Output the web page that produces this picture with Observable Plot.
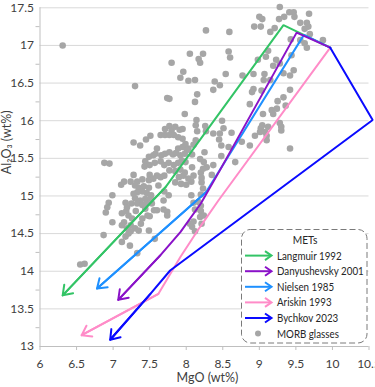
<!DOCTYPE html>
<html>
<head>
<meta charset="utf-8">
<script src="https://cdn.jsdelivr.net/npm/d3@7"></script>
<script src="https://cdn.jsdelivr.net/npm/@observablehq/plot@0.6"></script>
<style>
  html, body { margin: 0; padding: 0; background: #fff; }
  #wrap { position: relative; width: 375px; height: 387px; overflow: hidden; }
  #legend { position: absolute; left: 241px; top: 229px; }
</style>
</head>
<body>
<div id="wrap"></div>
<script>
// ---- Data (MgO wt%, Al2O3 wt%) ----
const seriesNames = ["Langmuir 1992", "Danyushevsky 2001", "Nielsen 1985", "Ariskin 1993", "Bychkov 2023"];
const seriesColors = ["#33c466", "#8a12c8", "#1e90ff", "#ff8cc8", "#0a0aff"];

const langmuir = [[9.97,16.97],[9.33,17.27],[7.72,15.12],[6.31,13.68]];
const danyushevsky = [[9.97,16.97],[9.51,17.17],[8.46,15.34],[8.20,14.90],[7.92,14.52],[7.645,14.21],[7.07,13.62]];
const nielsen = [[9.97,16.97],[9.61,17.14],[8.27,15.05],[6.78,13.77]];
const ariskin = [[9.97,16.97],[8.44,14.94],[8.19,14.59],[7.92,14.19],[7.62,13.70],[6.57,13.15]];
const bychkov = [[9.97,16.97],[10.55,16.01],[7.78,14.01],[7.51,13.70],[6.96,13.09]];

const morb = [
[9.28,17.51],[9.41,17.44],[9.47,17.44],[9.68,17.42],[9.00,17.38],[9.04,17.35],[9.27,17.35],[9.34,17.38],[9.48,17.38],[9.56,17.30],[9.65,17.30],[9.67,17.25],[9.62,17.22],[8.93,17.25],[9.02,17.25],[9.15,17.18],[9.21,17.23],[8.27,17.20],[8.59,17.18],[9.43,17.08],[9.56,17.07],[9.69,17.15],[9.62,17.03],[9.65,16.97],[9.87,17.07],
[8.05,16.89],[8.17,16.82],[8.23,16.89],[8.19,16.77],[8.58,16.92],[8.60,16.84],[9.12,16.93],[9.09,16.85],[8.98,16.81],[9.19,16.73],[9.23,16.81],[9.28,16.76],[9.44,16.87],[7.80,16.77],[7.96,16.65],[7.92,16.57],[8.54,16.62],[8.77,16.60],[8.92,16.62],[9.07,16.62],[9.15,16.54],[9.06,16.54],[9.33,16.63],[9.47,16.67],[9.42,16.60],[8.03,16.53],[8.12,16.54],[8.39,16.52],[8.37,16.41],[8.46,16.47],[8.92,16.42],[8.90,16.38],[9.03,16.40],[9.42,16.41],
[6.31,17.00],[7.30,16.46],[7.74,16.30],[7.77,16.29],[8.15,16.35],[8.12,16.25],[8.87,16.22],[9.25,16.26],[9.33,16.31],[9.17,16.14],[9.19,16.09],[9.24,16.16],[9.36,16.20],[9.05,16.09],[7.98,16.09],[8.49,16.00],[8.14,16.01],[8.13,15.94],[8.26,15.93],
[9.04,15.94],[9.02,15.90],[9.12,15.92],[9.08,15.85],[9.10,15.80],[9.01,15.85],[8.94,15.80],[8.87,15.67],[9.28,15.97],[9.30,15.92],[9.30,15.87],[8.62,15.84],[8.46,15.83],[8.37,15.83],[8.58,15.65],[8.76,15.72],[9.10,15.74],[9.42,15.63],[8.67,15.45],
[7.71,15.89],[7.77,15.93],[7.80,15.87],[7.85,15.92],[7.91,15.88],[7.95,15.89],[7.65,15.81],[7.71,15.81],[7.77,15.81],[7.83,15.81],[7.89,15.78],[7.95,15.76],[7.51,15.80],[7.45,15.75],[7.37,15.67],[7.28,15.71],
[8.15,15.86],[8.27,15.86],[8.45,15.75],[8.51,15.90],[8.48,15.67],[8.13,15.74],[8.10,15.68],[8.03,15.63],[8.25,15.58],[8.08,15.55],[8.19,15.49],[8.24,15.45],[8.28,15.38],[8.37,15.41],[8.48,15.53],[7.99,15.45],
[7.60,15.63],[7.58,15.56],[7.49,15.52],[7.55,15.54],[7.66,15.54],[7.71,15.56],[7.77,15.58],[7.82,15.55],[7.89,15.63],[7.95,15.65],[7.99,15.69],[8.01,15.61],[7.86,15.57],[7.92,15.54],[7.98,15.56],
[7.44,15.46],[7.50,15.41],[7.57,15.44],[7.65,15.46],[7.70,15.41],[7.76,15.44],[7.83,15.41],[7.89,15.44],[7.94,15.47],[7.77,15.34],[7.85,15.33],[7.92,15.35],[7.98,15.31],[8.08,15.38],[7.43,15.39],[7.60,15.27],[7.65,15.25],[7.70,15.27],[7.50,15.28],[7.28,15.28],[7.15,15.19],[7.11,15.15],[7.24,15.19],[7.33,15.19],[7.40,15.22],[7.49,15.21],[7.55,15.23],[7.90,15.25],[7.96,15.27],[8.03,15.23],[8.10,15.27],[7.85,15.18],[7.93,15.16],[8.00,15.15],[8.07,15.19],[8.20,15.31],[8.21,15.24],[8.35,15.28],[8.23,15.36],[8.21,15.18],
[6.88,15.44],[6.95,15.43],
[7.30,15.14],[7.35,15.11],[7.42,15.13],[7.49,15.11],[7.33,15.05],[7.40,15.06],[7.46,15.04],[7.52,15.01],[7.30,14.97],[7.37,14.94],[7.44,14.96],[7.51,14.97],[7.33,14.90],[7.40,14.88],[7.46,14.90],[7.62,15.14],[7.70,15.06],[7.69,14.94],[7.17,14.91],[7.25,14.90],[6.99,15.01],[6.94,14.91],[6.92,14.85],[6.90,14.78],[7.12,14.77],[7.18,14.80],[7.21,14.74],[7.60,14.81],[7.69,14.82],[7.74,14.79],[7.50,14.73],[7.40,14.70],[8.07,15.01],[8.10,14.91],[8.17,14.92],[8.12,14.82],[8.20,14.80],[8.19,14.72],[8.24,14.74],
[7.26,14.70],[7.15,14.65],[7.12,14.61],[7.24,14.61],[6.99,14.65],[7.30,14.57],[7.24,14.53],[7.19,14.57],[7.35,14.54],[6.87,14.48],[7.17,14.46],[7.21,14.50],[7.12,14.39],[7.57,14.43],[8.05,14.63],[8.12,14.53],[8.08,14.59],
[6.55,14.09],[6.61,14.10],[7.19,14.85],[7.23,14.34],[7.33,14.24],[7.28,15.03],[7.53,14.90],[7.56,14.81],[7.74,14.74],[7.76,15.01],[7.49,14.54],[7.47,14.74],[7.38,14.63],[7.31,14.80],[7.44,14.83],
[8.21,14.63],[8.10,14.66],[8.20,14.87],[8.23,15.10],[8.20,15.02]
];

const xTicks = [6, 6.5, 7, 7.5, 8, 8.5, 9, 9.5, 10, 10.5];
const yTicks = [13, 13.5, 14, 14.5, 15, 15.5, 16, 16.5, 17, 17.5];
const yMinorTicks = [13.25, 13.75, 14.25, 14.75, 15.25, 15.75, 16.25, 16.75, 17.25];
const xLabel = "MgO (wt%)";
const yLabel = "Al\u2082O\u2083 (wt%)";
const legendTitle = "METs";
const morbName = "MORB glasses";

// ---- Build ----
const series = [langmuir, danyushevsky, nielsen, ariskin, bychkov];
const drawOrder = [0, 2, 3, 1, 4];
const textColor = "#404040";
const axisColor = "#bfbfbf";
const gridColor = "#d9d9d9";
const fontFamily = 'Lato, "Open Sans", sans-serif';

const lineMarks = [];
for (const i of drawOrder) {
  const pts = series[i];
  const c = seriesColors[i];
  lineMarks.push(Plot.line(pts, {x: d => d[0], y: d => d[1], stroke: c, strokeWidth: 2, strokeLinejoin: "miter"}));
  const last = [[pts[pts.length - 2], pts[pts.length - 1]]];
  lineMarks.push(Plot.arrow(last, {
    x1: d => d[0][0], y1: d => d[0][1], x2: d => d[1][0], y2: d => d[1][1],
    stroke: c, strokeWidth: 2, headLength: 8, headAngle: 70
  }));
}

const chart = Plot.plot({
  width: 375,
  height: 387,
  marginLeft: 39.5,
  marginRight: 6.5,
  marginTop: 7.3,
  marginBottom: 41,
  style: {fontFamily, background: "transparent"},
  x: {domain: [6, 10.5]},
  y: {domain: [13, 17.5]},
  marks: [
    Plot.gridY(yTicks.filter(d => d !== 13), {stroke: gridColor, strokeOpacity: 1, strokeWidth: 1}),
    Plot.ruleX([6], {stroke: axisColor}),
    Plot.ruleY([13], {stroke: axisColor}),
    Plot.axisX(xTicks, {tickSize: 4, tickPadding: 9, tickFormat: d => String(d), stroke: axisColor, fill: textColor, fontSize: 12, label: null}),
    Plot.axisY(yTicks, {tickSize: 0, tickPadding: 6, tickFormat: d => String(d), fill: textColor, fontSize: 12, label: null}),
    Plot.axisY(yMinorTicks, {tickSize: 4, tickFormat: () => "", stroke: axisColor, label: null}),
    Plot.text([xLabel], {frameAnchor: "bottom", dx: 3, dy: 35.5, fontSize: 12.5, fill: textColor}),
    Plot.text([yLabel], {frameAnchor: "left", dx: -33, dy: -3, rotate: -90, fontSize: 12.5, fill: textColor}),
    Plot.dot(morb, {x: d => d[0], y: d => d[1], r: 3.3, fill: "#a6a6a6", stroke: "none"}),
    ...lineMarks
  ]
});

const wrap = document.getElementById("wrap");
wrap.appendChild(chart);

// ---- Legend (inside the plot area, lower right) ----
const lw = 127, lh = 115;
const squeeze = 0.85; // narrow the glyphs horizontally to approximate the original condensed face
const leg = d3.create("svg").attr("id", "legend").attr("width", lw).attr("height", lh)
  .attr("font-family", fontFamily);
leg.append("rect").attr("x", 0.5).attr("y", 0.5).attr("width", lw - 1.5).attr("height", lh - 1.5)
  .attr("rx", 9).attr("fill", "#fff").attr("stroke", "#7a7a7a").attr("stroke-dasharray", "6 3");
leg.append("text").attr("transform", `translate(64,11) scale(${squeeze},1)`).attr("text-anchor", "middle").attr("dy", "0.35em")
  .attr("font-size", 12).attr("fill", "#262626").text(legendTitle);
const rowY = i => 26.6 + 15.6 * i;
function legText(y, label) {
  leg.append("text").attr("transform", `translate(36,${y}) scale(${squeeze},1)`).attr("dy", "0.35em")
    .attr("font-size", 11.5).attr("fill", "#262626").text(label);
}
seriesNames.forEach((name, i) => {
  const y = rowY(i);
  const g = leg.append("g").attr("stroke", seriesColors[i]).attr("stroke-width", 2).attr("fill", "none");
  g.append("line").attr("x1", 4).attr("x2", 30).attr("y1", y).attr("y2", y);
  g.append("path").attr("d", `M24,${y - 4.5}L30.5,${y}L24,${y + 4.5}`);
  legText(y, name);
});
leg.append("circle").attr("cx", 17).attr("cy", rowY(5)).attr("r", 3).attr("fill", "#a6a6a6");
legText(rowY(5), morbName);
wrap.appendChild(leg.node());
</script>
</body>
</html>
